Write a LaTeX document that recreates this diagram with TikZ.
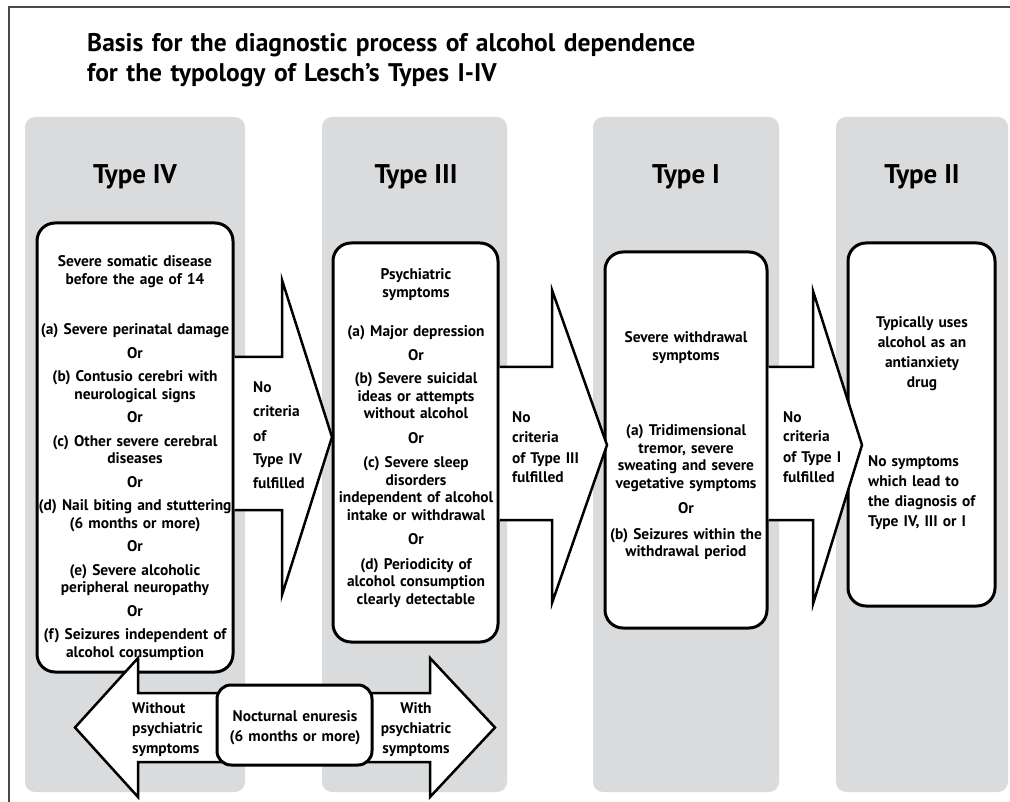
\documentclass[tikz,border=0pt]{standalone}
\usepackage{fontspec}
\setmainfont{PT Sans}
\definecolor{colbg}{HTML}{DADBDD}
\definecolor{framegray}{HTML}{4A4A4A}
\begin{document}
\begin{tikzpicture}[x=1pt,y=-1pt,
  colstyle/.style={fill=colbg, draw=none, rounded corners=10pt, inner sep=0pt, outer sep=0pt},
  boxstyle/.style={draw=black, fill=white, line width=3pt, rounded corners=18pt, inner sep=0pt},
  arr/.style={draw=black, fill=white, line width=2.5pt, line join=miter},
  body/.style={font=\fontsize{15.4}{17.5}\selectfont\bfseries, text width=230pt, align=center, inner sep=0pt, anchor=base},
  headstyle/.style={font=\fontsize{27}{30}\selectfont\bfseries, inner sep=0pt, anchor=base},
  titlestyle/.style={font=\fontsize{25.5}{30}\selectfont\bfseries, text width=800pt, align=left, inner sep=0pt, anchor=base west},
  arrtext/.style={font=\fontsize{15.4}{24}\selectfont\bfseries, text width=100pt, align=left, inner sep=0pt, anchor=base west}
]
\useasboundingbox (0,0) rectangle (1010,802);
% frame
\draw[framegray, line width=2pt] (9,802) -- (9,7) -- (1010,7);
% columns
\node[colstyle, minimum width=220pt, minimum height=675pt] (cIV) at (135,454.5) {};
\node[colstyle, minimum width=185pt, minimum height=675pt] (cIII) at (414.5,454.5) {};
\node[colstyle, minimum width=186pt, minimum height=675pt] (cI) at (686,454.5) {};
\node[colstyle, minimum width=172pt, minimum height=675pt] (cII) at (922,454.5) {};
% title
\node[titlestyle] (title) at (87,52) {Basis for the diagnostic process of alcohol dependence\\for the typology of Lesch’s Types I-IV};
% headings
\node[headstyle] (hIV) at (135,184) {Type IV};
\node[headstyle] (hIII) at (416,184) {Type III};
\node[headstyle] (hI) at (686,184) {Type I};
\node[headstyle] (hII) at (922,184) {Type II};
% boxes
\node[boxstyle, minimum width=196pt, minimum height=449pt] (bIV) at (135,447.5) {};
\node[boxstyle, minimum width=165pt, minimum height=399pt] (bIII) at (415.5,442.5) {};
\node[boxstyle, minimum width=162pt, minimum height=376pt] (bI) at (686,440) {};
\node[boxstyle, minimum width=147pt, minimum height=363pt] (bII) at (921.5,424.5) {};
% arrows between types
\filldraw[arr] (bIV.east |- 0,357) -- (282,357) -- (282,280) -- (332,437) -- (282,595) -- (282,510) -- (bIV.east |- 0,510);
\filldraw[arr] (bIII.east |- 0,367) -- (552,367) -- (552,290) -- (607,445) -- (552,603) -- (552,520) -- (bIII.east |- 0,520);
\filldraw[arr] (bI.east |- 0,367) -- (813,367) -- (813,291) -- (862,445) -- (813,604) -- (813,520) -- (bI.east |- 0,520);
% bottom arrows
\filldraw[arr] (240,693) -- (138,693) -- (138,658) -- (75,727.5) -- (138,797) -- (138,762) -- (240,762);
\filldraw[arr] (350,693) -- (430,693) -- (430,658) -- (495,727.5) -- (430,797) -- (430,762) -- (350,762);
\node[boxstyle, rounded corners=14pt, minimum width=155pt, minimum height=80pt] (noct) at (294.5,725) {};
% box texts
\node[body] (tIV) at (135,267) {Severe somatic disease\\before the age of 14\\[33pt]
(a) Severe perinatal damage\\[6pt]Or\\[6pt]
(b) Contusio cerebri with\\neurological signs\\[6pt]Or\\[6pt]
(c) Other severe cerebral\\diseases\\[6pt]Or\\[6pt]
(d) Nail biting and stuttering\\(6 months or more)\\[6pt]Or\\[6pt]
(e) Severe alcoholic\\peripheral neuropathy\\[6pt]Or\\[6pt]
(f) Seizures independent of\\alcohol consumption};
\node[body] (tIII) at (416,280) {Psychiatric\\symptoms\\[22pt]
(a) Major depression\\[6pt]Or\\[6pt]
(b) Severe suicidal\\ideas or attempts\\without alcohol\\[7pt]Or\\[7pt]
(c) Severe sleep\\disorders\\independent of alcohol\\intake or withdrawal\\[7pt]Or\\[7pt]
(d) Periodicity of\\alcohol consumption\\clearly detectable};
\node[body] (tI) at (686,343) {Severe withdrawal\\symptoms\\[58pt]
(a) Tridimensional\\tremor, severe\\sweating and severe\\vegetative symptoms\\[8pt]Or\\[8pt]
(b) Seizures within the\\withdrawal period};
\node[body, font=\fontsize{15.4}{20}\selectfont\bfseries] (tIIa) at (922,328) {Typically uses\\alcohol as an\\antianxiety\\drug};
\node[body, font=\fontsize{15.4}{20}\selectfont\bfseries, text width=140pt, align=left, anchor=base west] (tIIb) at (868,466) {No symptoms\\which lead to\\the diagnosis of\\Type IV, III or I};
% arrow texts
\node[arrtext] (aIV) at (253,393) {No\\criteria\\of\\Type IV\\fulfilled};
\node[arrtext, font=\fontsize{15.4}{20}\selectfont\bfseries] (aIII) at (512,423) {No\\criteria\\of Type III\\fulfilled};
\node[arrtext, font=\fontsize{15.4}{20}\selectfont\bfseries] (aI) at (783,422) {No\\criteria\\of Type I\\fulfilled};
% bottom texts
\node[body, font=\fontsize{15.4}{20}\selectfont\bfseries] (tnoct) at (295,721) {Nocturnal enuresis\\(6 months or more)};
\node[arrtext, font=\fontsize{15.4}{20}\selectfont\bfseries] (twithout) at (132,713) {Without\\psychiatric\\symptoms};
\node[body, font=\fontsize{15.4}{20}\selectfont\bfseries] (twith) at (416,713) {With\\psychiatric\\symptoms};
\end{tikzpicture}
\end{document}
